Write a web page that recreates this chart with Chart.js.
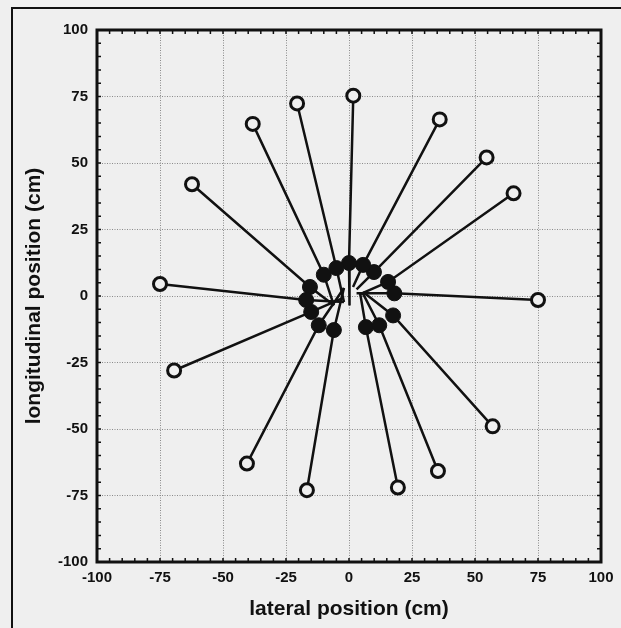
<!DOCTYPE html>
<html>
<head>
<meta charset="utf-8">
<script src="https://cdn.jsdelivr.net/npm/chart.js@4"></script>
<style>
  html, body { margin: 0; padding: 0; background: #efefef; overflow: hidden; }
  #wrap { position: relative; width: 621px; height: 628px; }
  #frame { position: absolute; left: 11px; top: 7px; width: 700px; height: 700px; border-left: 2px solid #111; border-top: 2px solid #111; }
  canvas { position: absolute; left: 0; top: 0; }
</style>
</head>
<body>
<div id="wrap">
  <div id="frame"></div>
  <canvas id="c" width="621" height="628"></canvas>
</div>
<script>
// start positions (open circles)
const startX = [-75, -62.3, -38.2, -20.6, 1.7, 36, 54.6, 65.3, 75, 57, 35.3, 19.4, -16.7, -40.5, -69.4];
const startY = [4.5, 42, 64.7, 72.4, 75.3, 66.4, 52.1, 38.6, -1.5, -49, -65.8, -72, -73, -63, -28];
// intermediate positions (filled circles)
const midX = [-17, -15.5, -10, -5, 0, 5.6, 9.9, 15.5, 18, 17.5, 12, 6.7, -6, -12, -15];
const midY = [-1.5, 3.4, 8, 10.5, 12.4, 11.7, 9, 5.3, 1, -7.3, -11, -11.7, -12.8, -11, -6];
// end positions near the centre
const endX = [-2, -6, -6, -2, 0.2, 1.6, 3, 4, 3, 5.6, 5.5, 4.4, -2, -2, -3];
const endY = [-2.3, -3.5, -3.5, -2.3, -3.6, 3.4, 2.5, 0.5, 1, 1.5, 1, 1.1, 3, 3, -1];

const axisMin = -100, axisMax = 100, tickStep = 25, minorStep = 5;

const datasets = startX.map((x, i) => ({
    data: [
        { x: x, y: startY[i] },
        { x: midX[i], y: midY[i] },
        { x: endX[i], y: endY[i] }
    ],
    showLine: true,
    borderColor: '#111',
    borderWidth: 2.5,
    pointRadius: [6.5, 7.5, 0],
    pointBorderWidth: [3, 1, 0],
    pointBackgroundColor: ['#efefef', '#111', '#111'],
    pointBorderColor: '#111',
    pointStyle: 'circle'
}));

const frameTicks = {
    id: 'frameTicks',
    beforeDatasetsDraw(chart) {
        const { ctx, chartArea: a, scales: { x, y } } = chart;
        ctx.save();
        ctx.strokeStyle = '#111';
        ctx.lineWidth = 1.5;
        for (let v = axisMin; v <= axisMax; v += minorStep) {
            const px = x.getPixelForValue(v);
            const py = y.getPixelForValue(v);
            ctx.beginPath();
            ctx.moveTo(px, a.bottom); ctx.lineTo(px, a.bottom - 4);
            ctx.moveTo(px, a.top); ctx.lineTo(px, a.top + 4);
            ctx.moveTo(a.left, py); ctx.lineTo(a.left + 4, py);
            ctx.moveTo(a.right, py); ctx.lineTo(a.right - 4, py);
            ctx.stroke();
        }
        ctx.lineWidth = 3;
        ctx.strokeRect(a.left, a.top, a.right - a.left, a.bottom - a.top);
        ctx.restore();
    }
};

const tickFont = { family: 'Liberation Sans, Arial, sans-serif', size: 15, weight: 'bold' };
const titleFont = { family: 'Liberation Sans, Arial, sans-serif', size: 21, weight: 'bold', lineHeight: 1.2 };

new Chart(document.getElementById('c').getContext('2d'), {
    type: 'scatter',
    data: { datasets: datasets },
    options: {
        responsive: false,
        devicePixelRatio: 1,
        animation: false,
        layout: { padding: { left: 22, right: 20, top: 30, bottom: 6 } },
        plugins: { legend: { display: false }, tooltip: { enabled: false } },
        scales: {
            x: {
                type: 'linear',
                min: axisMin, max: axisMax,
                afterFit: s => { s.height = 60; },
                ticks: { stepSize: tickStep, color: '#111', font: tickFont, padding: 7, maxRotation: 0 },
                grid: { color: '#8a8a8a', lineWidth: 1, drawTicks: false },
                border: { display: false, dash: [1, 1.5] },
                title: { display: true, text: 'lateral position (cm)', color: '#111', font: titleFont, padding: { top: 0, bottom: 0 } }
            },
            y: {
                type: 'linear',
                min: axisMin, max: axisMax,
                afterFit: s => { s.width = 75; },
                ticks: { stepSize: tickStep, color: '#111', font: tickFont, padding: 9 },
                grid: { color: '#8a8a8a', lineWidth: 1, drawTicks: false },
                border: { display: false, dash: [1, 1.5] },
                title: { display: true, text: 'longitudinal position (cm)', color: '#111', font: titleFont, padding: { top: 0, bottom: 0 } }
            }
        }
    },
    plugins: [frameTicks]
});
</script>
</body>
</html>
